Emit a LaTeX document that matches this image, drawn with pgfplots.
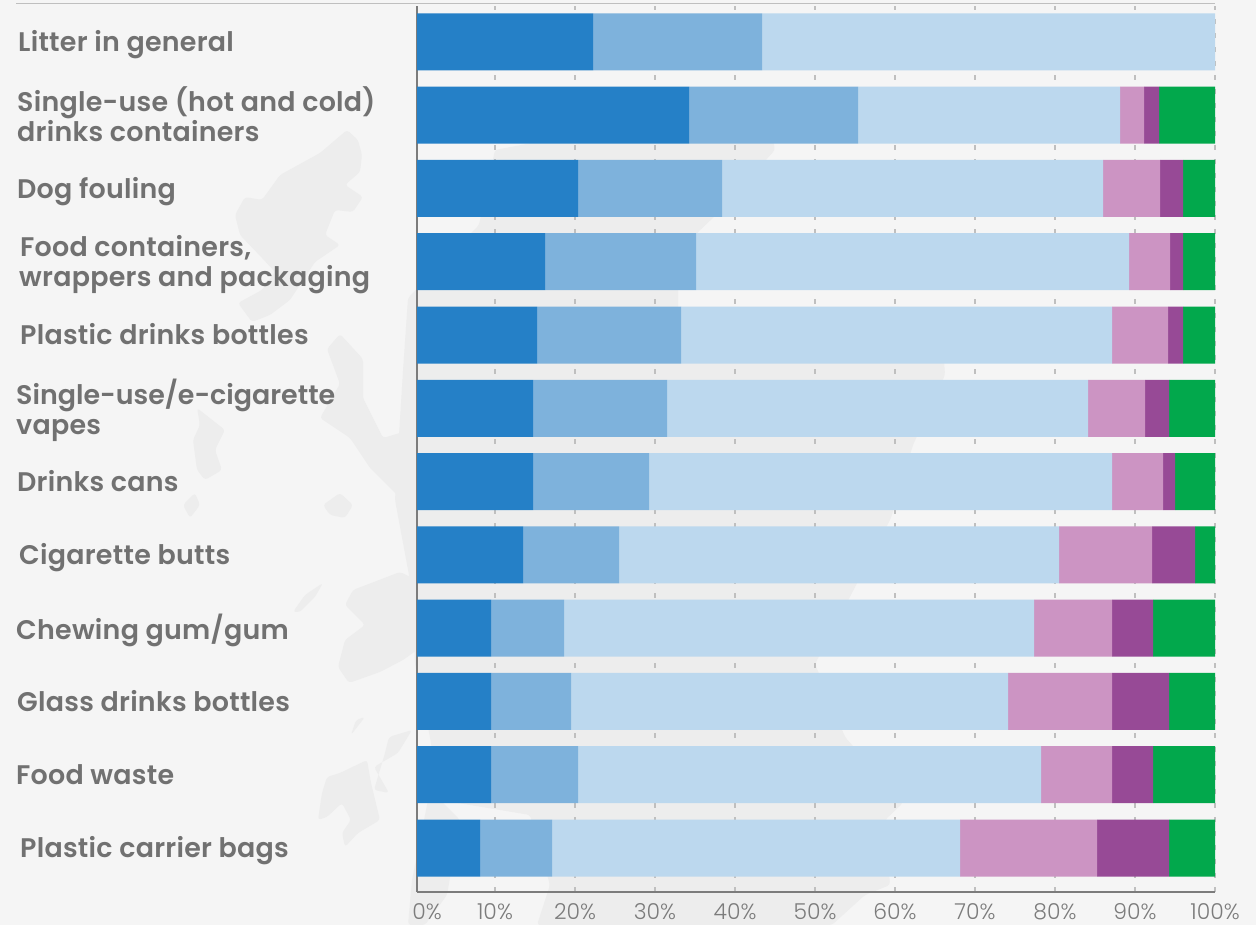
\documentclass[border=0pt]{standalone}
\usepackage{pgfplots}
\pgfplotsset{compat=1.18}
\usepackage{pgfplotstable}
\usepackage{fontspec}
\setmainfont[LetterSpace=1]{Poppins SemiBold}
\newfontfamily\tickfont{Poppins Light}
\newfontfamily\tightfont{Poppins SemiBold}
\definecolor{bg}{HTML}{F5F5F5}
\definecolor{landc}{HTML}{EDEDED}
\definecolor{labelc}{HTML}{717171}
\definecolor{tickc}{HTML}{7C7C7C}
\definecolor{c1}{HTML}{2580C7}
\definecolor{c2}{HTML}{7EB2DC}
\definecolor{c3}{HTML}{BCD8EE}
\definecolor{c4}{HTML}{CC94C3}
\definecolor{c5}{HTML}{974A96}
\definecolor{c6}{HTML}{02A84C}
\newcommand\lab[2]{\hspace*{#1bp}\rule[-8bp]{0pt}{29bp}#2}
\pgfplotstableread{
y  a b c d e f
11 22.25 21.125 56.625 0 0 0
10 34.25 21.125 32.75 3 1.875 7
9  20.375 18 47.625 7.125 2.875 4
8  16.25 18.875 54.125 5.125 1.625 4
7  15.25 18 53.875 7 1.875 4
6  14.75 16.75 52.625 7.125 3 5.75
5  14.75 14.5 57.875 6.375 1.5 5
4  13.5 12 55 11.625 5.375 2.5
3  9.5 9.125 58.75 9.75 5.125 7.75
2  9.5 10 54.625 13 7.125 5.75
1  9.5 10.875 57.875 8.875 5.125 7.75
0  8.125 9 51 17.125 9 5.75
}\litter
\begin{document}
\begin{tikzpicture}[x=1bp,y=1bp]
\fill[bg] (0,0) rectangle (1256,925);
% faint map behind the chart, in image pixels
\begin{scope}[yscale=-1,yshift=-925bp,landc,rounded corners=3bp]
\fill (347,130)--(358,140)--(362,155)--(360,172)--(345,185)--(363,197)--(353,212)--(335,210)--(325,235)--(340,245)--(315,262)--(300,285)--(290,300)--(270,315)--(252,322)--(238,303)--(262,290)--(275,272)--(262,258)--(240,235)--(235,215)--(245,197)--(262,200)--(280,175)--(320,153)--cycle;
\fill (197,408)--(225,430)--(215,450)--(222,470)--(205,480)--(197,470)--(193,440)--(200,425)--cycle;
\fill (183,505)--(195,493)--(200,505)--(190,518)--cycle;
\fill (340,334)--(363,359)--(363,398)--(383,438)--(417,428)--(417,468)--(400,498)--(370,468)--(350,438)--(320,418)--(340,384)--(327,349)--cycle;
\fill (323,505)--(340,493)--(353,505)--(345,518)--(330,515)--cycle;
\fill (293,612)--(305,595)--(323,583)--(315,597)--(300,612)--cycle;
\fill (353,590)--(400,572)--(417,580)--(417,650)--(403,660)--(380,672)--(349,683)--(338,667)--(345,640)--(365,625)--(345,605)--cycle;
\fill (322,793)--(327,777)--(340,773)--(367,760)--(371,783)--(380,820)--(358,833)--(345,847)--(342,833)--(351,820)--(342,803)--(327,817)--(318,820)--cycle;
\fill (374,767)--(398,753)--(412,730)--(389,737)--(385,753)--(374,790)--(389,793)--cycle;
\fill (351,735)--(365,717)--(356,720)--cycle;
\fill (430,790)--(460,820)--(447,895)--(425,925)--(408,925)--(412,880)--cycle;
\fill (495,150)--(600,130)--(700,125)--(771,130)--(775,150)--(714,217)--(697,233)--(678,290)--(678,310)--(800,340)--(943,345)--(945,375)--(913,445)--(891,518)--(853,591)--(815,664)--(845,737)--(903,803)--(885,820)--(890,885)--(865,895)--(832,925)--(537,925)--(550,885)--(530,815)--(440,800)--(430,737)--(415,664)--(412,591)--(395,500)--(403,371)--(408,298)--(479,225)--cycle;
\end{scope}
\draw[color=black!25,line width=1.5bp] (16,921.5) -- (1215,921.5);
\begin{axis}[
  at={(417bp,33bp)},anchor=south west,
  scale only axis,
  width=798bp,height=886bp,
  xbar stacked,
  bar width=57bp,
  clip=false,
  xmin=0.25,xmax=100,
  ymin=-0.6,ymax=11.49,
  axis x line*=bottom,axis y line*=left,
  axis line style={tickc,line width=1.5bp,-},
  xtick={0.25,10,20,30,40,50,60,70,80,90,100},
  xticklabels={\hspace*{20bp}0\%,10\%,20\%,30\%,40\%,50\%,60\%,70\%,80\%,90\%,100\%},
  ytick={0,...,11},
  yticklabels={\lab{4}{Plastic carrier bags},\lab{0}{Food waste},\lab{1}{Glass drinks bottles},\lab{0}{Chewing gum/gum},\lab{3}{Cigarette butts},\lab{1}{Drinks cans},{\lab{0}{\raisebox{2bp}{\tightfont Single-use/e-cigarette}}\\\lab{0}{\raisebox{2bp}{vapes}}},\lab{4}{Plastic drinks bottles},{\lab{4}{Food containers,}\\\lab{3}{wrappers and packaging}},\lab{1}{Dog fouling},{\lab{1}{Single-use (hot and cold)}\\\lab{1}{drinks containers}},\lab{2}{Litter in general}},
  major tick length=0pt,
  xmajorgrids,
  grid style={color=black!25,line width=1.3bp,dash pattern=on 5bp off 9bp},
  x tick label style={font=\tickfont\fontsize{22}{22}\selectfont,text=tickc,inner sep=0pt,yshift=-11bp},
  y tick label style={font=\fontsize{27}{29}\selectfont,text=labelc,anchor=west,align=left,inner sep=0pt,xshift=-401bp,yshift=-3bp},
]
\addplot[fill=c1,draw=none] table[x=a,y=y] {\litter};
\addplot[fill=c2,draw=none] table[x=b,y=y] {\litter};
\addplot[fill=c3,draw=none] table[x=c,y=y] {\litter};
\addplot[fill=c4,draw=none] table[x=d,y=y] {\litter};
\addplot[fill=c5,draw=none] table[x=e,y=y] {\litter};
\addplot[fill=c6,draw=none] table[x=f,y=y] {\litter};
\end{axis}
\end{tikzpicture}
\end{document}
